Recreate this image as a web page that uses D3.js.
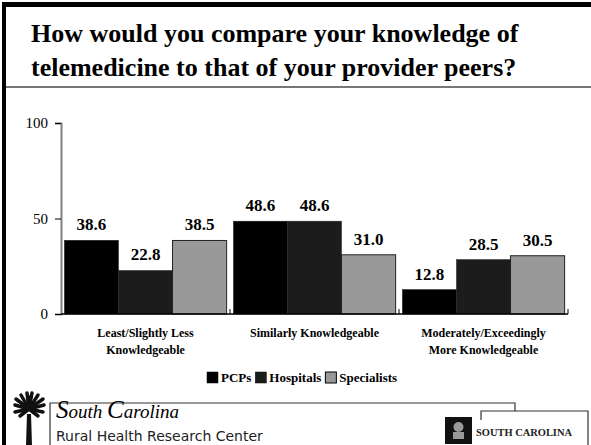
<!DOCTYPE html>
<html><head><meta charset="utf-8">
<script src="https://cdn.jsdelivr.net/npm/d3@7"></script>
<style>
html,body{margin:0;padding:0;background:#fff;}
svg{display:block;}
.serif{font-family:"Liberation Serif","Times New Roman",Times,serif;}
.sans{font-family:"DejaVu Sans",sans-serif;}
</style></head>
<body>
<svg id="c" width="591" height="445"></svg>
<script>
const categories = [["Least/Slightly Less","Knowledgeable"],["Similarly Knowledgeable"],["Moderately/Exceedingly","More Knowledgeable"]];
const categoryKeys = ["Least/Slightly Less Knowledgeable","Similarly Knowledgeable","Moderately/Exceedingly More Knowledgeable"];
const seriesNames = ["PCPs","Hospitals","Specialists"];
const pcps = [38.6, 48.6, 12.8];
const hospitals = [22.8, 48.6, 28.5];
const specialists = [38.5, 31.0, 30.5];
const yTicks = [0, 50, 100];
const colors = ["#000000","#1c1c1c","#999999"];
const titleLines = ["How would you compare your knowledge of","telemedicine to that of your provider peers?"];

const svg = d3.select("#c");

// frame
svg.append("rect").attr("x",2).attr("y",2).attr("width",591).attr("height",5).attr("fill","#000");
svg.append("rect").attr("x",2).attr("y",2).attr("width",4).attr("height",445).attr("fill","#000");
svg.append("line").attr("x1",6).attr("x2",591).attr("y1",87).attr("y2",87).attr("stroke","#777").attr("stroke-width",2);

// title
svg.append("g").selectAll("text").data(titleLines).join("text")
  .attr("class","serif")
  .attr("x",31).attr("y",(d,i)=>42+i*34)
  .style("font-weight","bold").style("font-size","26px")
  .attr("fill","#000").text(d=>d);

const series = [pcps,hospitals,specialists];
const x0 = d3.scaleBand().domain(categoryKeys).range([61,568]).paddingInner(0.04).paddingOuter(0.02);
const x1 = d3.scaleBand().domain(seriesNames).range([0,x0.bandwidth()]);
const y = d3.scaleLinear().domain([0,100]).range([314,123]);

// y axis
const yAxis = d3.axisLeft(y).tickValues(yTicks).tickSize(6).tickPadding(7);
const gy = svg.append("g").attr("transform","translate(61,0)").call(yAxis);
gy.attr("font-family",null).attr("font-size",null);
gy.select(".domain").attr("stroke","#808080").attr("stroke-width",2);
gy.selectAll(".tick line").attr("stroke","#000").attr("stroke-width",1);
gy.selectAll(".tick text").attr("class","serif").style("font-size","15px").attr("fill","#000");

// bars
const g = svg.append("g");
categoryKeys.forEach((c,ci)=>{
  seriesNames.forEach((s,si)=>{
    const v = series[si][ci];
    g.append("rect")
      .attr("x",x0(c)+x1(s)).attr("y",y(v))
      .attr("width",x1.bandwidth()).attr("height",y(0)-y(v))
      .attr("fill",colors[si]).attr("stroke","#222").attr("stroke-width",si===2?1:0.5);
    g.append("text").attr("class","serif")
      .attr("x",x0(c)+x1(s)+x1.bandwidth()/2).attr("y",y(v)-10)
      .attr("text-anchor","middle").style("font-weight","bold")
      .style("font-size","17px").attr("fill","#000").text(v.toFixed(1));
  });
});

// x axis
const xb = d3.scaleLinear().domain([0,3]).range([61,568]);
svg.append("line").attr("x1",61).attr("x2",568).attr("y1",314).attr("y2",314).attr("stroke","#000").attr("stroke-width",1.5);
svg.append("g").selectAll("line").data([1,2,3]).join("line")
  .attr("x1",d=>xb(d)).attr("x2",d=>xb(d)).attr("y1",309).attr("y2",314).attr("stroke","#000");

// category labels
categories.forEach((lines,ci)=>{
  svg.append("g").selectAll("text").data(lines).join("text").attr("class","serif")
    .attr("x",x0(categoryKeys[ci])+x0.bandwidth()/2).attr("y",(d,i)=>337+i*17)
    .attr("text-anchor","middle").style("font-weight","bold")
    .style("font-size","12px").attr("fill","#000").text(d=>d);
});

// legend
const lg = svg.append("g").attr("transform","translate(207,372)");
let lx = 0;
seriesNames.forEach((s,i)=>{
  lg.append("rect").attr("x",lx).attr("y",0).attr("width",11).attr("height",11)
    .attr("fill",colors[i]).attr("stroke","#000").attr("stroke-width",i===2?1:0.5);
  const t = lg.append("text").attr("class","serif").attr("x",lx+14).attr("y",10)
    .style("font-weight","bold").style("font-size","13px").attr("fill","#000").text(s);
  lx += 14 + t.node().getComputedTextLength() + 4;
});

// footer
const f = svg.append("g");
f.append("path").attr("d","M50,445 L50,403 L515,403 L515,411").attr("fill","none").attr("stroke","#333").attr("stroke-width",1.2);
f.append("path").attr("d","M481,420 L481,411 L588,411 L588,445").attr("fill","none").attr("stroke","#333").attr("stroke-width",1.2);
// palm tree
f.append("path").attr("d","M26,445 L27,414 L31,414 L32,445 Z").attr("fill","#111");
const fronds = [[-14,-4],[-13,-10],[-8,-14],[-2,-16],[3,-16],[9,-14],[14,-10],[15,-4],[-14,3],[14,3],[-9,7],[9,7],[0,-12]];
f.append("g").selectAll("line").data(fronds).join("line")
  .attr("x1",29).attr("y1",409).attr("x2",d=>29+d[0]).attr("y2",d=>409+d[1])
  .attr("stroke","#111").attr("stroke-width",3.5).attr("stroke-linecap","round");
f.append("text").attr("class","serif").attr("x",56).attr("y",418).style("font-style","italic")
  .style("font-size","19px").attr("fill","#000")
  .html('<tspan style="font-size:25px">S</tspan>outh <tspan style="font-size:25px">C</tspan>arolina');
f.append("text").attr("class","sans").attr("x",56).attr("y",441)
  .style("font-size","14px").attr("fill","#222").text("Rural Health Research Center");
// logo
f.append("rect").attr("x",445).attr("y",417).attr("width",27).attr("height",27).attr("fill","#111");
f.append("circle").attr("cx",458.5).attr("cy",427).attr("r",5).attr("fill","#999");
f.append("rect").attr("x",453).attr("y",432).attr("width",11).attr("height",7).attr("fill","#999");
f.append("text").attr("class","serif").attr("x",476).attr("y",436).style("font-weight","bold")
  .style("font-size","11px").attr("fill","#222").attr("textLength",96).attr("lengthAdjust","spacingAndGlyphs")
  .text("SOUTH CAROLINA");
</script>
</body></html>
